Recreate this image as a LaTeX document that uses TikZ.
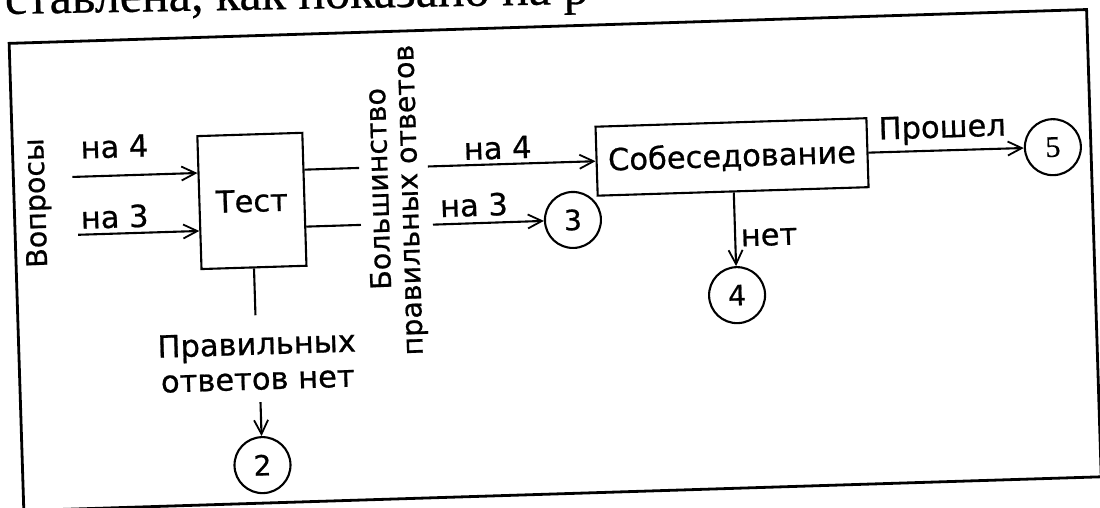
\documentclass[tikz,border=0pt]{standalone}
\usepackage{fontspec}
\setmainfont{DejaVu Sans}[FakeBold=0.7]
\newfontfamily\pageserif{Liberation Serif}[FakeBold=0.5]
\usetikzlibrary{arrows.meta}
\tikzset{
  lbl/.style={inner sep=0pt, font=\fontsize{30.5}{35}\selectfont},
  vlbl/.style={inner sep=0pt, rotate=90, font=\fontsize{28.5}{33}\selectfont},
  boxnode/.style={draw, line width=2.1pt, inner sep=0pt},
  numnode/.style={draw, circle, line width=2.1pt, minimum size=56pt, inner sep=0pt, font=\fontsize{28}{32}\selectfont},
  ln/.style={line width=2.1pt},
  arr/.style={line width=2.1pt, -{Straight Barb[length=14pt,width=14pt,line width=1.8pt]}},
}
\begin{document}
\begin{tikzpicture}[x=1pt,y=-1pt]
\useasboundingbox (0,0) rectangle (1100,508);
\clip (0,0) rectangle (1100,508);
\fill[white] (0,0) rectangle (1100,508);
% page text cut off at the top
\node[anchor=base west, inner sep=0pt, rotate=1, font=\pageserif\fontsize{50}{54}\selectfont] (pagetext) at (5,14) {ставлена, как показано на р};
\begin{scope}[rotate around={1.8:(550,254)}, transform shape]
  % frame
  \draw[line width=2.8pt] (16,26.5) rectangle (1094,494);

  % Test block
  \node[vlbl] (vopr) at (39.6,187) {Вопросы};
  \node[lbl] (na4a) at (118,133) {на 4};
  \node[lbl] (na3a) at (116,203) {на 3};
  \node[boxnode, minimum width=105pt, minimum height=133pt, lbl] (test) at (253.7,191.6) {Тест};
  \coordinate (q4) at (75,162);
  \coordinate (q3) at (79,220);
  \draw[arr] (q4) -- (q4 -| test.west);
  \draw[arr] (q3) -- (q3 -| test.west);
  \coordinate (o4) at (362,162);
  \coordinate (o3) at (362,219);
  \draw[ln] (o4 -| test.east) -- (o4);
  \draw[ln] (o3 -| test.east) -- (o3);
  \coordinate (tb) at (253.7,306);
  \draw[ln] (test.south) -- (tb);
  \node[lbl, align=center] (noans) at (254,352) {Правильных\\ответов нет};
  \node[numnode] (c2) at (256,456) {2};
  \coordinate (a2) at (256,393);
  \draw[arr] (a2) -- (c2);

  % majority label
  \node[vlbl] (maj1) at (380,183.6) {Большинство};
  \node[vlbl] (maj2) at (414.7,195.7) {правильных ответов};

  % interview
  \node[boxnode, minimum width=271pt, minimum height=69pt, lbl] (int) at (735,162.7) {Собеседование};
  \node[lbl] (na4b) at (501,146.4) {на 4};
  \node[lbl] (na3b) at (475.5,202.6) {на 3};
  \coordinate (r4) at (430.8,162.7);
  \coordinate (r3) at (434,221);
  \draw[arr] (r4) -- (int.west);
  \node[numnode] (c3) at (574,220.7) {3};
  \draw[arr] (r3) -- (c3);

  \node[numnode, font=\pageserif\fontsize{30}{34}\selectfont] (c5) at (1056,163) {5};
  \draw[arr] (int.east) -- (c5);
  \node[lbl] (passed) at (946,142) {Прошел};

  \node[numnode] (c4) at (735.7,301) {4};
  \draw[arr] (int.south -| c4) -- (c4);
  \node[lbl] (net) at (769.5,244) {нет};
\end{scope}
\end{tikzpicture}
\end{document}
